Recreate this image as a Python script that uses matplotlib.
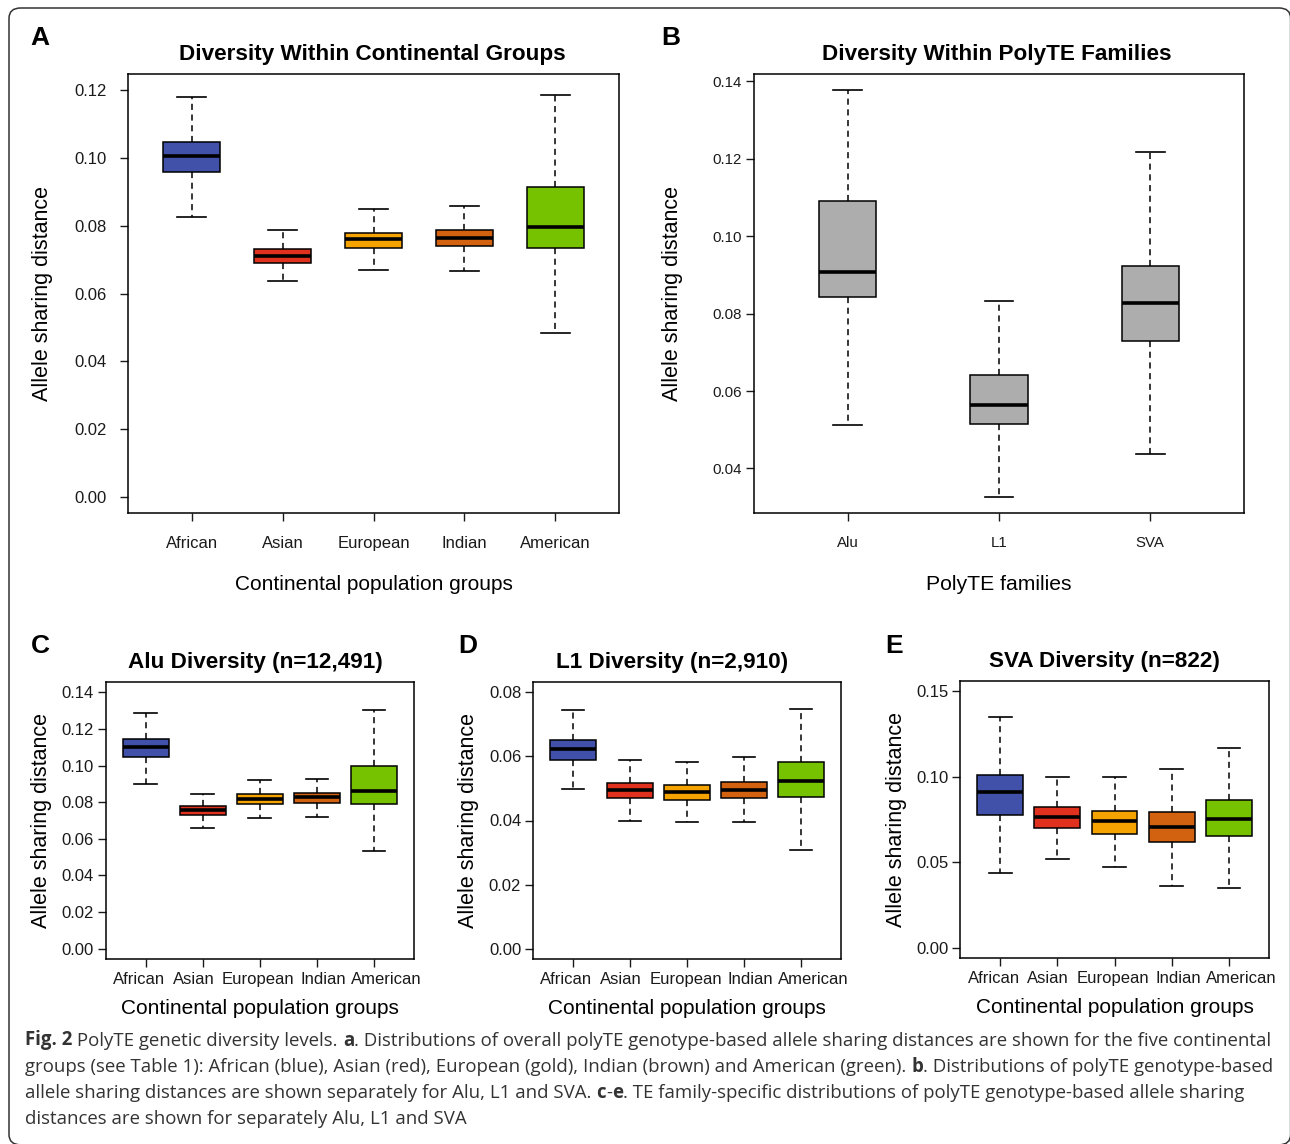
import numpy as np
import matplotlib
matplotlib.use('Agg')
import matplotlib.pyplot as plt
from matplotlib.patches import FancyBboxPatch
from matplotlib.transforms import ScaledTranslation

plt.rcParams['font.family'] = ['Liberation Sans', 'DejaVu Sans']

W, H = 1290, 1144

# categories
groups = ['African', 'Asian', 'European', 'Indian', 'American']
families = ['Alu', 'L1', 'SVA']
group_colors = ['#4150a8', '#e0301e', '#f5a300', '#d2620f', '#76c200']
family_color = '#adadad'

# A: all polyTEs by continental group (whisker low, Q1, median, Q3, whisker high)
a_lo = [0.0825, 0.0636, 0.0669, 0.0665, 0.0482]
a_q1 = [0.0958, 0.0689, 0.0735, 0.0739, 0.0734]
a_med = [0.1007, 0.0711, 0.0761, 0.0765, 0.0796]
a_q3 = [0.1047, 0.0731, 0.0780, 0.0787, 0.0914]
a_hi = [0.1180, 0.0787, 0.0848, 0.0859, 0.1186]

# B: by polyTE family
b_lo = [0.0513, 0.0327, 0.0437]
b_q1 = [0.0843, 0.0516, 0.0730]
b_med = [0.0907, 0.0565, 0.0827]
b_q3 = [0.1091, 0.0642, 0.0924]
b_hi = [0.1377, 0.0832, 0.1217]

# C: Alu
c_lo = [0.0899, 0.0660, 0.0711, 0.0720, 0.0532]
c_q1 = [0.1044, 0.0729, 0.0791, 0.0797, 0.0791]
c_med = [0.1099, 0.0755, 0.0820, 0.0826, 0.0859]
c_q3 = [0.1143, 0.0777, 0.0846, 0.0849, 0.0995]
c_hi = [0.1287, 0.0846, 0.0922, 0.0926, 0.1303]

# D: L1
d_lo = [0.0497, 0.0398, 0.0395, 0.0395, 0.0309]
d_q1 = [0.0590, 0.0469, 0.0463, 0.0469, 0.0474]
d_med = [0.0623, 0.0495, 0.0489, 0.0495, 0.0522]
d_q3 = [0.0652, 0.0518, 0.0512, 0.0521, 0.0584]
d_hi = [0.0745, 0.0590, 0.0581, 0.0598, 0.0748]

# E: SVA
e_lo = [0.0438, 0.0521, 0.0473, 0.0363, 0.0352]
e_q1 = [0.0779, 0.0703, 0.0668, 0.0619, 0.0654]
e_med = [0.0910, 0.0764, 0.0740, 0.0705, 0.0752]
e_q3 = [0.1008, 0.0826, 0.0801, 0.0791, 0.0863]
e_hi = [0.1350, 0.0998, 0.0998, 0.1045, 0.1170]

a_ticks = [0.00, 0.02, 0.04, 0.06, 0.08, 0.10, 0.12]
b_ticks = [0.04, 0.06, 0.08, 0.10, 0.12, 0.14]
c_ticks = [0.00, 0.02, 0.04, 0.06, 0.08, 0.10, 0.12, 0.14]
d_ticks = [0.00, 0.02, 0.04, 0.06, 0.08]
e_ticks = [0.00, 0.05, 0.10, 0.15]

caption_lines = [
    [("Fig. 2", 'bold'), (" PolyTE genetic diversity levels. ", 'normal'), ("a", 'bold'),
     (". Distributions of overall polyTE genotype-based allele sharing distances are shown for the five continental", 'normal')],
    [("groups (see Table 1): African (blue), Asian (red), European (gold), Indian (brown) and American (green). ", 'normal'),
     ("b", 'bold'), (". Distributions of polyTE genotype-based", 'normal')],
    [("allele sharing distances are shown separately for Alu, L1 and SVA. ", 'normal'), ("c", 'bold'), ("-", 'normal'),
     ("e", 'bold'), (". TE family-specific distributions of polyTE genotype-based allele sharing", 'normal')],
    [("distances are shown for separately Alu, L1 and SVA", 'normal')],
]


def px_axes(fig, left, top, right, bottom):
    return fig.add_axes([left / W, 1 - bottom / H, (right - left) / W, (bottom - top) / H])


def make_stats(lo, q1, med, q3, hi):
    return [dict(whislo=a, q1=b, med=c, q3=d, whishi=e, fliers=[])
            for a, b, c, d, e in zip(lo, q1, med, q3, hi)]


def draw_box(ax, stats, colors, width):
    pos = np.arange(1, len(stats) + 1)
    bp = ax.bxp(stats, positions=pos, widths=width, capwidths=width / 2,
                patch_artist=True, showfliers=False,
                boxprops=dict(edgecolor='black', linewidth=1.1),
                medianprops=dict(color='black', linewidth=2.6, solid_capstyle='butt'),
                whiskerprops=dict(color='black', linewidth=1.1, linestyle=(0, (4, 3))),
                capprops=dict(color='black', linewidth=1.2))
    for patch, c in zip(bp['boxes'], colors):
        patch.set_facecolor(c)
    for s in ax.spines.values():
        s.set_linewidth(1.1)
    return pos


def style(ax, labels, ticks, ylim, xlim, tick_fs, ypad, xpad, title, title_x,
          xlabel, xlab_fs, xlab_y, ylab_x):
    ax.set_xlim(*xlim)
    ax.set_ylim(*ylim)
    ax.set_xticks(np.arange(1, len(labels) + 1))
    ax.set_xticklabels(labels)
    ax.set_yticks(ticks)
    ax.set_yticklabels(['%.2f' % t for t in ticks])
    ax.tick_params(axis='both', direction='out', length=5.5, width=1.0,
                   labelsize=tick_fs, colors='#1a1a1a')
    ax.tick_params(axis='y', pad=ypad)
    ax.tick_params(axis='x', pad=xpad)
    ax.set_title(title, fontsize=16.2, fontweight='bold', x=title_x, pad=10)
    ax.set_xlabel(xlabel, fontsize=xlab_fs, va='center')
    ax.xaxis.set_label_coords(0.5, xlab_y)
    ax.set_ylabel('Allele sharing distance', fontsize=15.5, va='center')
    ax.yaxis.set_label_coords(ylab_x, 0.5)


def spread_labels(ax, shifts):
    # the small panels have their group names pushed apart so they do not touch
    for lab, dx in zip(ax.get_xticklabels(), shifts):
        lab.set_transform(lab.get_transform() + ScaledTranslation(dx / 100, 0, fig.dpi_scale_trans))


fig = plt.figure(figsize=(W / 100, H / 100), dpi=100)

# outer rounded frame (right and bottom edges run just off the page)
frame = FancyBboxPatch((9 / W, 1 - 1144.8 / H), 1281.6 / W, 1136.8 / H,
                       boxstyle='round,pad=0,rounding_size=0.009',
                       transform=fig.transFigure, facecolor='none',
                       edgecolor='#333333', linewidth=1.1)
fig.patches.append(frame)

small_shift = [-6.5, -9, -1.5, 6.5, 12.5]

# A
axA = px_axes(fig, 128, 74, 619, 513)
draw_box(axA, make_stats(a_lo, a_q1, a_med, a_q3, a_hi), group_colors, 0.63)
style(axA, groups, a_ticks, (-0.0048, 0.1248), (0.3, 5.7), 12, 10, 11,
      'Diversity Within Continental Groups', 0.497,
      'Continental population groups', 15, -0.162, -0.175)

# B
axB = px_axes(fig, 754, 74, 1244, 513)
draw_box(axB, make_stats(b_lo, b_q1, b_med, b_q3, b_hi), [family_color] * 3, 0.38)
style(axB, families, b_ticks, (0.0285, 0.1419), (0.38, 3.62), 10.8, 3, 11,
      'Diversity Within PolyTE Families', 0.496,
      'PolyTE families', 15.2, -0.162, -0.167)

# C
axC = px_axes(fig, 105.7, 682, 414, 959)
draw_box(axC, make_stats(c_lo, c_q1, c_med, c_q3, c_hi), group_colors, 0.8)
style(axC, groups, c_ticks, (-0.0056, 0.1456), (0.3, 5.7), 12, 3, 4,
      'Alu Diversity (n=12,491)', 0.486,
      'Continental population groups', 15, -0.177, -0.207)
spread_labels(axC, small_shift)

# D
axD = px_axes(fig, 533, 682, 841, 959)
draw_box(axD, make_stats(d_lo, d_q1, d_med, d_q3, d_hi), group_colors, 0.8)
style(axD, groups, d_ticks, (-0.0032, 0.0832), (0.3, 5.7), 12, 3, 4,
      'L1 Diversity (n=2,910)', 0.450,
      'Continental population groups', 15, -0.177, -0.211)
spread_labels(axD, small_shift)

# E
axE = px_axes(fig, 960, 681, 1269, 958)
draw_box(axE, make_stats(e_lo, e_q1, e_med, e_q3, e_hi), group_colors, 0.8)
style(axE, groups, e_ticks, (-0.006, 0.156), (0.3, 5.7), 12, 3, 4,
      'SVA Diversity (n=822)', 0.468,
      'Continental population groups', 15, -0.177, -0.204)
spread_labels(axE, small_shift)

# panel letters
for letter, x, y in [('A', 30, 26), ('B', 661, 26), ('C', 31, 634), ('D', 458, 634), ('E', 885, 634)]:
    fig.text(x / W, 1 - y / H, letter, fontsize=19, fontweight='bold', ha='left', va='top')

# caption, sized so the first line spans the same width as in the figure
renderer = fig.canvas.get_renderer()
cap_font = ['Open Sans', 'DejaVu Sans']
probe_w = 0
for txt, wt in caption_lines[0]:
    p = fig.text(0, 0, txt, fontsize=12, fontweight=wt, family=cap_font)
    probe_w += p.get_window_extent(renderer).width
    p.remove()
cap_fs = 12 * 1243 / probe_w

baselines = [1045.5, 1071.7, 1097.9, 1124]
for line, yb in zip(caption_lines, baselines):
    x = 25
    for txt, wt in line:
        t = fig.text(x / W, 1 - yb / H, txt, fontsize=cap_fs, fontweight=wt,
                     family=cap_font, color='#333333', ha='left', va='baseline')
        x += t.get_window_extent(renderer).width

fig.savefig('out.png', dpi=100)
